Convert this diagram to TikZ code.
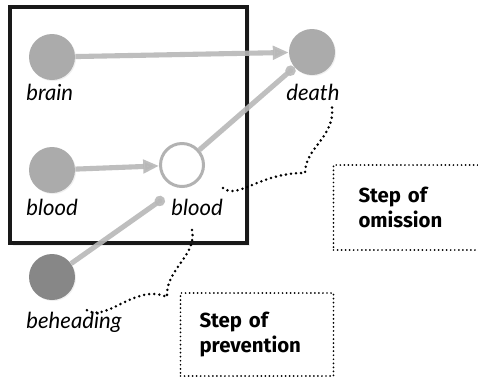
\documentclass[tikz,border=0pt]{standalone}
\usepackage{fontspec}
\setmainfont{Lato}
\newfontfamily\stepfont{Fira Sans}
\usetikzlibrary{arrows.meta,shadows}

\begin{document}
\begin{tikzpicture}[
	circ/.style={
	  circle,
	  minimum size=0.92cm,
	  inner sep=0pt,
	  fill=black!33,
	  drop shadow={opacity=0.12, shadow xshift=0.6pt, shadow yshift=-0.6pt}
	},
	dark/.style={
	  circ,
	  fill=black!47
	},
	hollow/.style={
	  circle,
	  minimum size=0.86cm,
	  inner sep=0pt,
	  line width=1.7pt,
	  draw=black!30,
	  fill=white
	},
	lbl/.style={
	  anchor=base west,
	  inner sep=0pt,
	  font=\fontsize{12.6}{14}\selectfont\itshape
	},
	frame/.style={
	  rectangle,
	  minimum width=4.74cm,
	  minimum height=4.72cm,
	  line width=2pt,
	  draw=black!90,
	  fill=white,
	  drop shadow={opacity=0.12, shadow xshift=1.5pt, shadow yshift=-1.5pt}
	},
	stepbox/.style={
	  rectangle,
	  draw,
	  line width=1.1pt,
	  dash pattern=on 0pt off 2.3pt,
	  line cap=round,
	  align=left,
	  text width=2.3cm,
	  inner xsep=0.38cm,
	  inner ysep=0pt,
	  font=\stepfont\bfseries\fontsize{11.6}{14.2}\selectfont
	},
 	line/.style={draw, line width=2.9pt, black!28, opacity=0.9, -{Triangle[length=9pt,width=7.5pt]}},
 	inhib/.style={draw, line width=2.9pt, black!28, opacity=0.9, -{Circle[length=5.8pt]}},
 	brace/.style={draw, line width=1.6pt, dash pattern=on 0pt off 2.9pt, line cap=round}
	]
	\useasboundingbox (0, 0) rectangle (9.56, -7.58);
	\node at (2.57, -2.5) [frame] (box) {};
	\node at (1.04, -1.14) [circ] (brain) {};
	\node at (6.24, -1.04) [circ] (death) {};
	\node at (1.04, -3.4) [circ] (bloodL) {};
	\node at (3.64, -3.3) [hollow] (bloodM) {};
	\node at (1.04, -5.54) [dark] (behead) {};
	\coordinate (bstop) at (3.28, -3.96);
	\node at (0.52, -2.0) [lbl] (brainlabel) {brain};
	\node at (5.72, -2.0) [lbl] (deathlabel) {death};
	\node at (0.52, -4.3) [lbl] (bloodLlabel) {blood};
	\node at (3.42, -4.3) [lbl] (bloodMlabel) {blood};
	\node at (0.52, -6.56) [lbl] (beheadlabel) {beheading};
	\node at (8.32, -4.15) [stepbox, minimum width=3.3cm, minimum height=1.7cm] (omission) {Step of\\omission};
	\node at (5.14, -6.69) [stepbox, minimum width=3cm, minimum height=1.66cm] (prevention) {Step of\\prevention};
	\path [line] (brain) -- (death);
	\path [line] (bloodL) -- (bloodM);
	\path [inhib] (bloodM) -- (death);
	\path [inhib] (behead) -- (bstop);
	\path [brace] (4.46, -3.76) .. controls (4.75, -4.0) and (5.2, -3.45) .. (6.1, -3.46)
	  .. controls (6.1, -2.95) and (6.7, -2.75) .. (6.64, -2.14);
	\path [brace] (3.84, -4.6) .. controls (3.95, -5.1) and (3.3, -5.4) .. (3.34, -5.94)
	  .. controls (2.7, -5.65) and (2.1, -6.5) .. (1.7, -6.18);
  \end{tikzpicture}
\end{document}
